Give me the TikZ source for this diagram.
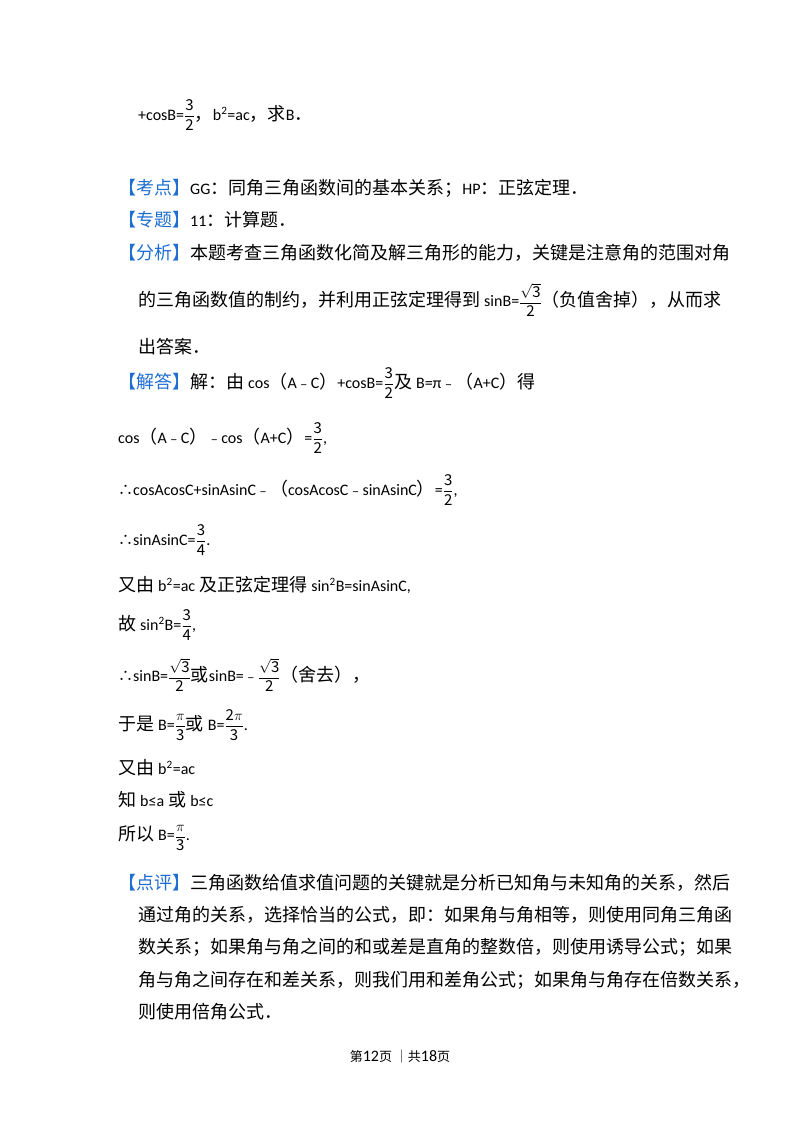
\documentclass[tikz,border=0pt]{standalone}
\usepackage{amsmath}
\usepackage{fontspec}
\setmainfont{Noto Sans CJK SC}
\newfontfamily\latf{Carlito}
\definecolor{tagblue}{RGB}{30,110,210}
\newcommand{\lt}[1]{{\latf\fontsize{16}{18}\selectfont #1}}
\newcommand{\ms}{{\fontsize{14}{16}\selectfont ﹣}}
\newcommand{\thr}{{\fontsize{15}{17}\selectfont ∴}}
\newcommand{\fr}[2]{{\fontsize{15}{17}\selectfont$\dfrac{\mathrm{#1}}{\mathrm{#2}}$}}
\newcommand{\tg}[1]{\textcolor{tagblue}{【#1】}}
\tikzset{ln/.style={anchor=west,inner sep=0pt,font=\fontsize{18}{22}\selectfont}}
\begin{document}
\begin{tikzpicture}[x=1pt,y=-1pt]
\useasboundingbox (0,0) rectangle (800,1132);
\node[ln] (l1) at (138,115) {\lt{+cosB=}\fr{3}{2}，\lt{b\textsuperscript{2}=ac}，求\lt{B}．};
\node[ln] (l2) at (118,188) {\tg{考点}\lt{GG}：同角三角函数间的基本关系；\lt{HP}：正弦定理．};
\node[ln] (l3) at (118,220) {\tg{专题}\lt{11}：计算题．};
\node[ln] (l4) at (118,253) {\tg{分析}本题考查三角函数化简及解三角形的能力，关键是注意角的范围对角};
\node[ln] (l5) at (138,300) {的三角函数值的制约，并利用正弦定理得到 \lt{sinB=}\fr{\sqrt{3}}{2}（负值舍掉），从而求};
\node[ln] (l6) at (138,347) {出答案．};
\node[ln] (l7) at (118,383) {\tg{解答}解：由 \lt{cos}（\lt{A}\ms\lt{C}）\lt{+cosB=}\fr{3}{2}及 \lt{B=π}\ms（\lt{A+C}）得};
\node[ln] (l8) at (118,438) {\lt{cos}（\lt{A}\ms\lt{C}）\ms\lt{cos}（\lt{A+C}）\lt{=}\fr{3}{2}\lt{,}};
\node[ln] (l9) at (118,490) {\thr\lt{cosAcosC+sinAsinC}\ms（\lt{cosAcosC}\ms\lt{sinAsinC}）\lt{=}\fr{3}{2}\lt{,}};
\node[ln] (l10) at (118,540) {\thr\lt{sinAsinC=}\fr{3}{4}\lt{.}};
\node[ln] (l11) at (118,585) {又由 \lt{b\textsuperscript{2}=ac} 及正弦定理得 \lt{sin\textsuperscript{2}B=sinAsinC,}};
\node[ln] (l12) at (118,625) {故 \lt{sin\textsuperscript{2}B=}\fr{3}{4}\lt{,}};
\node[ln] (l13) at (118,675) {\thr\lt{sinB=}\fr{\sqrt{3}}{2}或\lt{sinB=}\ms\fr{\sqrt{3}}{2}（舍去），};
\node[ln] (l14) at (118,725) {于是 \lt{B=}\fr{\pi}{3}或 \lt{B=}\fr{2\pi}{3}\lt{.}};
\node[ln] (l15) at (118,768) {又由 \lt{b\textsuperscript{2}=ac}};
\node[ln] (l16) at (118,800) {知 \lt{b≤a} 或 \lt{b≤c}};
\node[ln] (l17) at (118,838) {所以 \lt{B=}\fr{\pi}{3}\lt{.}};
\node[ln] (l18) at (118,883) {\tg{点评}三角函数给值求值问题的关键就是分析已知角与未知角的关系，然后};
\node[ln] (l19) at (138,915) {通过角的关系，选择恰当的公式，即：如果角与角相等，则使用同角三角函};
\node[ln] (l20) at (138,947) {数关系；如果角与角之间的和或差是直角的整数倍，则使用诱导公式；如果};
\node[ln] (l21) at (138,980) {角与角之间存在和差关系，则我们用和差角公式；如果角与角存在倍数关系，};
\node[ln] (l22) at (138,1012) {则使用倍角公式．};
\node[inner sep=0pt,font=\fontsize{13}{15}\selectfont] (ft) at (400,1057) {第\lt{12}页 ｜共\lt{18}页};
\end{tikzpicture}
\end{document}
